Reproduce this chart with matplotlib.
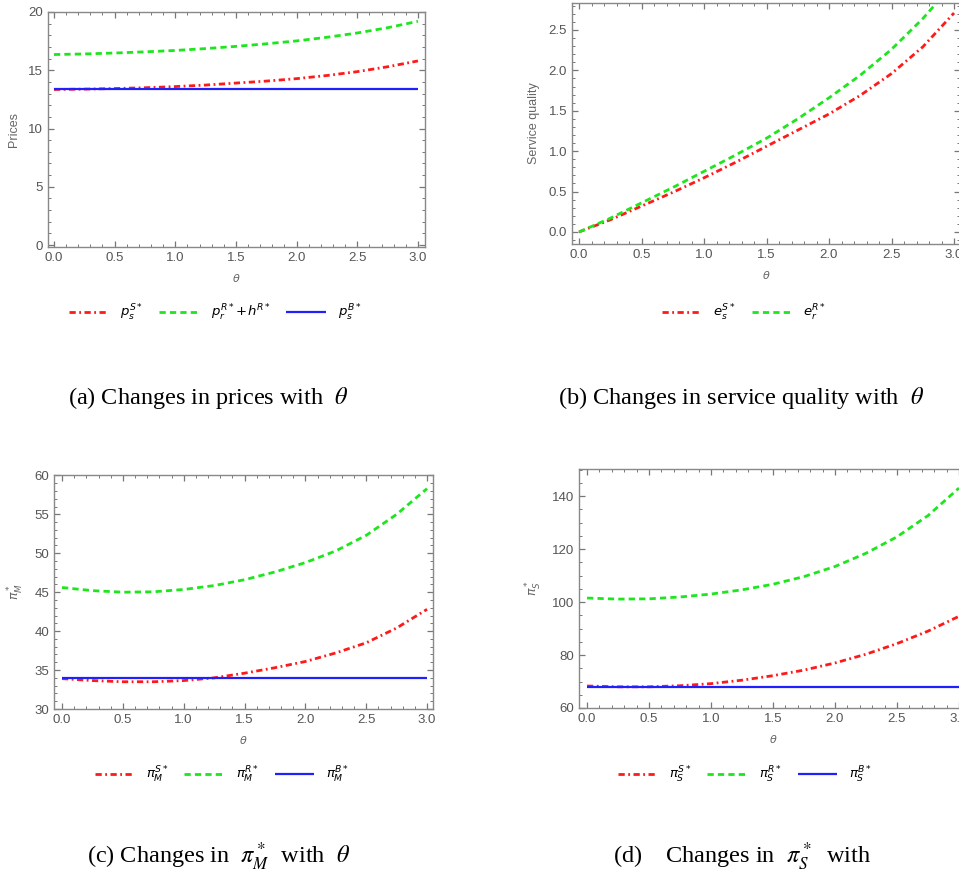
import matplotlib.pyplot as plt
from matplotlib.ticker import MultipleLocator

plt.rcParams['font.family'] = ['Liberation Sans', 'DejaVu Sans']
plt.rcParams['lines.scale_dashes'] = False

theta = [0.0, 0.25, 0.5, 0.75, 1.0, 1.25, 1.5, 1.75, 2.0, 2.25, 2.5, 2.75, 3.0]

# (a) prices
price_s_S = [13.35, 13.38, 13.43, 13.5, 13.6, 13.73, 13.9, 14.07, 14.28, 14.55, 14.88, 15.3, 15.8]
price_r_R = [16.35, 16.4, 16.48, 16.58, 16.7, 16.86, 17.05, 17.27, 17.52, 17.83, 18.2, 18.65, 19.2]
price_s_B = [13.35] * len(theta)

# (b) service quality
quality_s_S = [0.0, 0.15, 0.32, 0.49, 0.67, 0.86, 1.06, 1.26, 1.46, 1.69, 1.96, 2.29, 2.71]
quality_r_R = [0.0, 0.17, 0.36, 0.55, 0.75, 0.95, 1.16, 1.4, 1.66, 1.94, 2.26, 2.64, 3.08]

# (c) manufacturer profit
pi_M_S = [33.9, 33.65, 33.5, 33.5, 33.65, 34.0, 34.6, 35.3, 36.1, 37.2, 38.5, 40.4, 42.8]
pi_M_R = [45.6, 45.2, 45.0, 45.05, 45.35, 45.85, 46.6, 47.6, 48.8, 50.3, 52.3, 55.0, 58.3]
pi_M_B = [34.0] * len(theta)

# (d) supplier profit
pi_S_S = [68.3, 68.0, 68.0, 68.4, 69.2, 70.5, 72.2, 74.3, 77.0, 80.3, 84.3, 89.0, 94.6]
pi_S_R = [101.5, 101.1, 101.2, 101.9, 103.0, 104.6, 106.7, 109.6, 113.4, 118.4, 124.6, 132.6, 143.0]
pi_S_B = [68.0] * len(theta)

RED = '#ff1a1a'
GREEN = '#1ee61e'
BLUE = '#2020ff'
DASHDOT = (0, (4.5, 2.5, 1.3, 2.5))
DASHED = (0, (4.5, 3.0))

W, H = 959, 876
fig = plt.figure(figsize=(W / 100, H / 100), dpi=100)


def make_axes(left, top, right, bottom):
    return fig.add_axes([left / W, 1 - bottom / H, (right - left) / W, (bottom - top) / H])


def style(ax, xlim, ylim, ymajor, yminor, ylabel):
    ax.set_xlim(*xlim)
    ax.set_ylim(*ylim)
    ax.xaxis.set_major_locator(MultipleLocator(0.5))
    ax.xaxis.set_minor_locator(MultipleLocator(0.1))
    ax.yaxis.set_major_locator(MultipleLocator(ymajor))
    ax.yaxis.set_minor_locator(MultipleLocator(yminor))
    ax.xaxis.set_major_formatter(lambda v, p: f"{v:.1f}")
    ax.tick_params(which='both', direction='in', top=True, right=True,
                   color='#777777', labelcolor='#555555', labelsize=9.5)
    ax.tick_params(which='major', length=4.5, width=0.9)
    ax.tick_params(which='minor', length=2.5, width=0.7)
    for s in ax.spines.values():
        s.set_color('#888888')
        s.set_linewidth(1.0)
    ax.set_xlabel(r'$\theta$', color='#666666', fontsize=8, labelpad=6)
    ax.set_ylabel(ylabel, color='#666666', fontsize=9, labelpad=6)


def draw(ax, series):
    handles = []
    for y, color, ls, lw, label in series:
        h, = ax.plot(theta, y, color=color, linestyle=ls, lw=lw, label=label,
                     dash_capstyle='butt', solid_capstyle='butt')
        handles.append(h)
    return handles


def legend(handles, cx, cy):
    fig.legend(handles=handles, loc='center', bbox_to_anchor=(cx / W, 1 - cy / H),
               ncol=len(handles), frameon=False, handlelength=3.0,
               columnspacing=1.2, handletextpad=0.9,
               prop={'size': 9.5, 'math_fontfamily': 'dejavusans'})


def caption(text, cx, cy):
    fig.text(cx / W, 1 - cy / H, text, ha='center', va='center', fontsize=17.5,
             family='Liberation Serif', math_fontfamily='stix')


# (a)
ax_a = make_axes(48, 12, 425, 247)
h_a = draw(ax_a, [
    (price_s_S, RED, DASHDOT, 2.0, r'$p_s^{S*}$'),
    (price_r_R, GREEN, DASHED, 2.0, r'$p_r^{R*}\!+\!h^{R*}$'),
    (price_s_B, BLUE, '-', 1.6, r'$p_s^{B*}$'),
])
style(ax_a, (-0.049, 3.058), (-0.17, 20.0), 5, 1, 'Prices')
legend(h_a, 215, 313)
caption(r'(a) Changes in prices with  $\theta$', 208, 398)

# (b)
ax_b = make_axes(572, 3, 960, 244)
h_b = draw(ax_b, [
    (quality_s_S, RED, DASHDOT, 2.0, r'$e_s^{S*}$'),
    (quality_r_R, GREEN, DASHED, 2.0, r'$e_r^{R*}$'),
])
style(ax_b, (-0.056, 3.048), (-0.149, 2.834), 0.5, 0.1, 'Service quality')
legend(h_b, 744, 313)
caption(r'(b) Changes in service quality with  $\theta$', 741, 398)

# (c)
ax_c = make_axes(54, 475, 433, 709)
h_c = draw(ax_c, [
    (pi_M_S, RED, DASHDOT, 2.0, r'$\pi_M^{S*}$'),
    (pi_M_R, GREEN, DASHED, 2.0, r'$\pi_M^{R*}$'),
    (pi_M_B, BLUE, '-', 1.6, r'$\pi_M^{B*}$'),
])
style(ax_c, (-0.066, 3.049), (30, 60.05), 5, 1, r'$\pi_M^*$')
legend(h_c, 222, 775)
caption(r'(c) Changes in  $\pi_M^*$  with  $\theta$', 219, 857)

# (d)
ax_d = make_axes(579, 469, 967, 708)
h_d = draw(ax_d, [
    (pi_S_S, RED, DASHDOT, 2.0, r'$\pi_S^{S*}$'),
    (pi_S_R, GREEN, DASHED, 2.0, r'$\pi_S^{R*}$'),
    (pi_S_B, BLUE, '-', 1.6, r'$\pi_S^{B*}$'),
])
style(ax_d, (-0.065, 3.065), (60, 150.2), 20, 5, r'$\pi_S^*$')
legend(h_d, 745, 775)
caption(r'(d)    Changes in  $\pi_S^*$  with', 742, 857)

fig.savefig('out.png', dpi=100)
